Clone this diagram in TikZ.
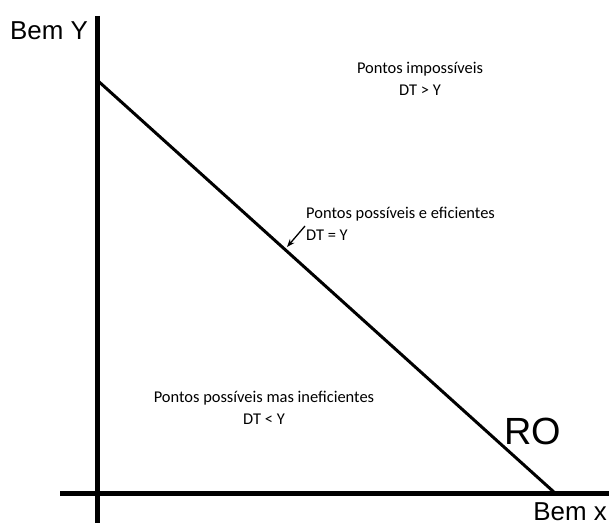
\documentclass[tikz,border=0pt]{standalone}
\usepackage{fontspec}
\setmainfont{Liberation Sans}
\newfontfamily\calib{Carlito}
\usetikzlibrary{arrows.meta}
\begin{document}
\begin{tikzpicture}[x=1bp,y=-1bp,
  axis/.style={line width=5bp},
  big/.style={font=\fontsize{26}{28}\selectfont, inner sep=0},
  small/.style={font=\calib\fontsize{16.5}{22}\selectfont, inner sep=0, align=center},
  smallleft/.style={font=\calib\fontsize{16.5}{22}\selectfont, inner sep=0, align=left}]
\useasboundingbox (0,0) rectangle (609,524);
\coordinate (yt) at (97,16);
\coordinate (yb) at (97,523);
\coordinate (xl) at (60,493);
\coordinate (xr) at (609,493);
\coordinate (ro1) at (97,80);
\coordinate (ro2) at (555,493);
\draw[axis] (yt) -- (yb);
\draw[axis] (xl) -- (xr);
\draw[line width=3bp] (ro1) -- (ro2);
\node[big, anchor=base west] (by) at (10,40) {Bem Y};
\node[big, anchor=base east] (bx) at (607,520) {Bem x};
\node[font=\fontsize{38}{40}\selectfont, inner sep=0, anchor=base west] (ro) at (504,444) {RO};
\node[small] (imp) at (420,79) {Pontos impossíveis\\DT > Y};
\node[smallleft, anchor=north west] (ef) at (306,207) {Pontos possíveis e eficientes\\DT = Y};
\coordinate (at) at (287,247);
\draw[line width=1.3bp, -{Stealth[length=8bp,width=6bp]}] (305,226) -- (at);
\node[small] (inef) at (264,408) {Pontos possíveis mas ineficientes\\DT < Y};
\end{tikzpicture}
\end{document}
